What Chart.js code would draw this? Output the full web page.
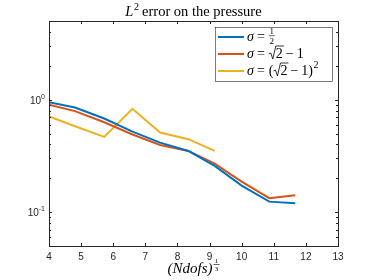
<!DOCTYPE html>
<html><head><meta charset="utf-8">
<script src="https://cdn.jsdelivr.net/npm/chart.js@4/dist/chart.umd.min.js"></script>
<style>html,body{margin:0;padding:0;background:#fff;}canvas{display:block;}</style>
</head><body>
<canvas id="c" width="374" height="280"></canvas>
<script>
const xValues = [4, 4.81, 5.72, 6.6, 7.46, 8.34, 9.16, 10.0, 10.86, 11.67];
const sigmaHalf = [0.95, 0.85, 0.68, 0.52, 0.415, 0.35, 0.258, 0.172, 0.124, 0.12];
const sigmaSqrt2m1 = [0.90, 0.79, 0.63, 0.49, 0.395, 0.35, 0.27, 0.187, 0.133, 0.141];
const sigmaSqrt2m1Sq = [0.71, 0.58, 0.467, 0.83, 0.51, 0.445, 0.35];
const xTicks = [4, 5, 6, 7, 8, 9, 10, 11, 12, 13];
const yMajorTicks = [1, 0.1];
const yMajorExp = ['0', '-1'];
const yMinorTicks = [0.05,0.06,0.07,0.08,0.09,0.2,0.3,0.4,0.5,0.6,0.7,0.8,0.9,2,3,4,5];
const seriesNames = ['1/2', 'sqrt2-1', '(sqrt2-1)^2'];
const colors = ['#0072BD', '#D95319', '#EDB120'];

function pts(ys){ return ys.map((y,i)=>({x:xValues[i], y:y})); }

const AX = '#262626';
const serif = '"Liberation Serif","DejaVu Serif",serif';
const sans = '"Liberation Sans",Arial,sans-serif';

const deco = {
  id:'deco',
  afterDraw(chart){
    const ctx = chart.ctx, a = chart.chartArea;
    const xs = chart.scales.x, ys = chart.scales.y;
    ctx.save();
    ctx.strokeStyle = AX; ctx.lineWidth = 1;
    ctx.strokeRect(Math.round(a.left)+0.5, Math.round(a.top)+0.5, Math.round(a.right-a.left), Math.round(a.bottom-a.top));
    ctx.beginPath();
    xTicks.forEach(v=>{
      const px = Math.round(xs.getPixelForValue(v))+0.5;
      ctx.moveTo(px, a.bottom); ctx.lineTo(px, a.bottom-3);
      ctx.moveTo(px, a.top); ctx.lineTo(px, a.top+3);
    });
    yMajorTicks.forEach(v=>{
      const py = Math.round(ys.getPixelForValue(v))+0.5;
      ctx.moveTo(a.left, py); ctx.lineTo(a.left+3, py);
      ctx.moveTo(a.right, py); ctx.lineTo(a.right-3, py);
    });
    yMinorTicks.forEach(v=>{
      const py = Math.round(ys.getPixelForValue(v))+0.5;
      ctx.moveTo(a.left, py); ctx.lineTo(a.left+2, py);
      ctx.moveTo(a.right, py); ctx.lineTo(a.right-2, py);
    });
    ctx.stroke();
    ctx.fillStyle = AX;
    ctx.font = '10px ' + sans;
    ctx.textAlign = 'center'; ctx.textBaseline = 'alphabetic';
    xTicks.forEach(v=>{ ctx.fillText(String(v), xs.getPixelForValue(v), a.bottom + 14); });
    yMajorTicks.forEach((v,i)=>{
      const py = ys.getPixelForValue(v);
      ctx.font = '7px ' + sans;
      const ew = ctx.measureText(yMajorExp[i]).width;
      ctx.textAlign = 'left';
      ctx.fillText(yMajorExp[i], a.left - 4 - ew, py - 1);
      ctx.font = '10px ' + sans;
      ctx.textAlign = 'right';
      ctx.fillText('10', a.left - 4 - ew, py + 4);
    });
    // title
    ctx.fillStyle = '#000';
    const cx = (a.left + a.right)/2;
    ctx.textAlign = 'left';
    ctx.font = 'italic 14.5px ' + serif; const wL = ctx.measureText('L').width;
    ctx.font = '10px ' + serif; const w2 = ctx.measureText('2').width;
    ctx.font = '14.5px ' + serif; const rest = ' error on the pressure'; const wr = ctx.measureText(rest).width;
    let tx = cx - (wL + w2 + wr)/2; const ty = 16;
    ctx.font = 'italic 14.5px ' + serif; ctx.fillText('L', tx, ty); tx += wL;
    ctx.font = '10px ' + serif; ctx.fillText('2', tx+0.5, ty-6); tx += w2;
    ctx.font = '14.5px ' + serif; ctx.fillText(rest, tx, ty);
    // x label
    ctx.font = 'italic 15px ' + serif;
    const xl = '(Ndofs)'; const wxl = ctx.measureText(xl).width;
    let lx = cx - (wxl + 7)/2; const ly = 273;
    ctx.fillText(xl, lx, ly); lx += wxl + 1;
    ctx.font = '7px ' + serif; ctx.textAlign='center';
    ctx.fillText('1', lx+3, ly-10);
    ctx.fillRect(lx, ly-9, 6, 0.6);
    ctx.fillText('3', lx+3, ly-2.5);
    // legend
    const L = {x:215, y:27, w:117, h:54};
    ctx.fillStyle = '#fff'; ctx.fillRect(L.x, L.y, L.w, L.h);
    ctx.strokeStyle = '#262626'; ctx.lineWidth = 0.6;
    ctx.strokeRect(L.x+0.5, L.y+0.5, L.w, L.h);
    const rows = [L.y+10, L.y+27, L.y+44];
    const F = 14;
    rows.forEach((ry,i)=>{
      ctx.strokeStyle = colors[i]; ctx.lineWidth = 2;
      ctx.beginPath(); ctx.moveTo(L.x+3, ry); ctx.lineTo(L.x+29, ry); ctx.stroke();
      ctx.fillStyle = '#000'; ctx.textAlign = 'left';
      let gx = L.x + 32; const gy = ry + 4;
      ctx.font = 'italic ' + F + 'px ' + serif; ctx.fillText('σ', gx, gy); gx += ctx.measureText('σ').width + 3;
      ctx.font = F + 'px ' + serif; ctx.fillText('=', gx, gy); gx += ctx.measureText('=').width + 4;
      if (i === 0) {
        ctx.font = '9px ' + serif; ctx.textAlign='center';
        ctx.fillText('1', gx+3, gy-7);
        ctx.fillRect(gx, gy-5.5, 6, 0.6);
        ctx.fillText('2', gx+3, gy+3);
      } else {
        let s = gx;
        if (i === 2) { ctx.fillText('(', s, gy); s += ctx.measureText('(').width; }
        ctx.strokeStyle = '#000'; ctx.lineWidth = 0.8;
        ctx.beginPath();
        ctx.moveTo(s, gy-4); ctx.lineTo(s+2, gy-5); ctx.lineTo(s+4, gy+1); ctx.lineTo(s+7, gy-12); ctx.lineTo(s+15, gy-12);
        ctx.stroke();
        s += 7;
        ctx.fillText('2', s, gy); s += ctx.measureText('2').width + 3;
        ctx.fillText('−', s, gy); s += ctx.measureText('−').width + 3;
        ctx.fillText('1', s, gy); s += ctx.measureText('1').width;
        if (i === 2) {
          ctx.fillText(')', s, gy); s += ctx.measureText(')').width;
          ctx.font = '10px ' + serif; ctx.fillText('2', s+0.5, gy-7);
        }
      }
    });
    ctx.restore();
  }
};

new Chart(document.getElementById('c'), {
  type: 'line',
  data: {
    datasets: [
      {label: seriesNames[0], data: pts(sigmaHalf), borderColor: colors[0]},
      {label: seriesNames[1], data: pts(sigmaSqrt2m1), borderColor: colors[1]},
      {label: seriesNames[2], data: pts(sigmaSqrt2m1Sq), borderColor: colors[2]}
    ].map(d=>Object.assign(d,{borderWidth:2, pointRadius:0, fill:false, tension:0}))
  },
  options: {
    responsive:false, animation:false, devicePixelRatio:1,
    layout:{padding:{top:21, right:36, left:0, bottom:0}},
    plugins:{legend:{display:false}, title:{display:false}, tooltip:{enabled:false}},
    scales:{
      x:{type:'linear', min:4, max:13, grid:{display:false}, border:{display:false},
         ticks:{display:false}, afterFit(s){ s.height = 34; }},
      y:{type:'logarithmic', min:0.05, max:5, grid:{display:false}, border:{display:false},
         ticks:{display:false}, afterFit(s){ s.width = 49; }}
    }
  },
  plugins:[deco]
});
</script>
</body></html>
